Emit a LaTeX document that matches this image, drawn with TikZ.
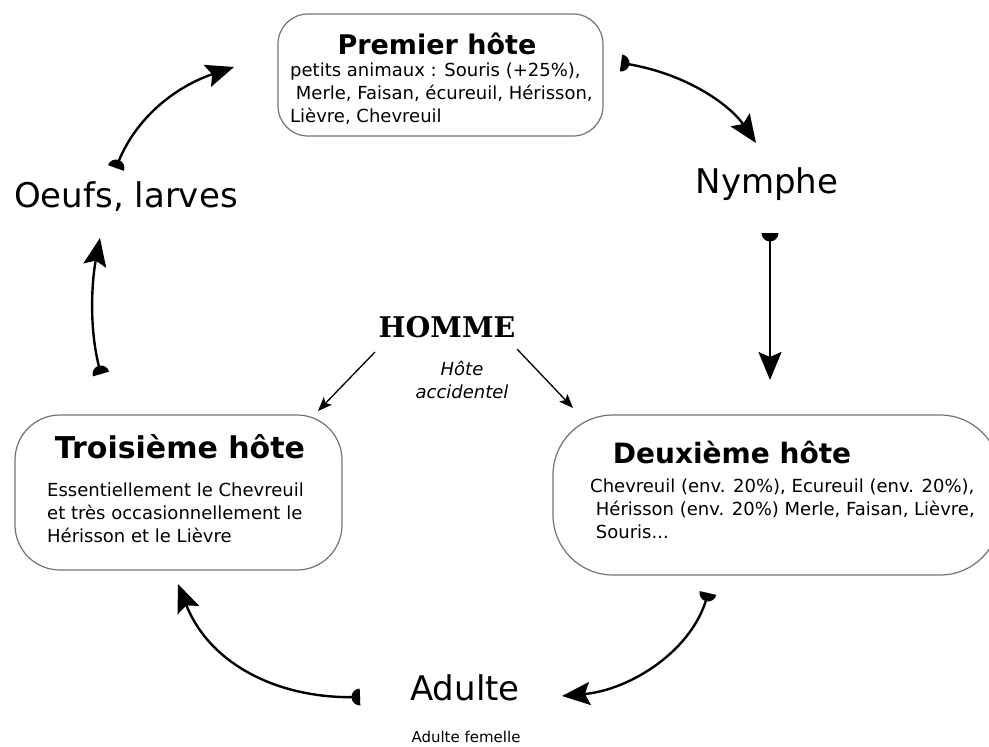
\documentclass[tikz,border=0pt]{standalone}
\usepackage{fontspec}
\setmainfont{DejaVu Sans}
\newfontfamily\serifbold{DejaVu Serif}
\usetikzlibrary{arrows.meta,decorations.markings}

\tikzset{
  hostbox/.style={draw=black!55, line width=1.2pt},
  hosttitle/.style={font=\bfseries\fontsize{28}{33}\selectfont, inner sep=0pt},
  hostbody/.style={font=\fontsize{18}{23}\selectfont, align=left, anchor=north west, inner sep=0pt},
  stage/.style={font=\fontsize{34}{40}\selectfont, inner sep=0pt},
  lifearrow/.style={line width=2.4pt, -{Stealth[length=28pt,width=23pt,inset=5pt]},
    postaction={decorate, decoration={markings,
      mark=at position 0 with {\fill (0pt,-8.5pt) arc (-90:90:8.5pt) -- cycle;}}}},
  humanarrow/.style={line width=1.3pt, -{Stealth[length=14pt,width=11pt,inset=3pt]}}
}

\begin{document}
\begin{tikzpicture}[x=1pt, y=-1pt]
\useasboundingbox (0,0) rectangle (989,747);
% Les trois hôtes
\node[hostbox, rounded corners=30pt, minimum width=325pt, minimum height=122pt] (premier) at (440.5,75) {};
\node[hostbox, rounded corners=45pt, minimum width=327pt, minimum height=155pt] (troisieme) at (178.5,492.5) {};
\node[hostbox, rounded corners=60pt, minimum width=447pt, minimum height=160pt] (deuxieme) at (776.5,495) {};
\node[hosttitle, font=\bfseries\fontsize{27}{32}\selectfont] (premiertitre) at (437,44) {Premier hôte};
\node[hostbody] (premiertexte) at (290,63) {petits animaux : Souris (+25\%),\\ \ Merle, Faisan, écureuil, Hérisson,\\Lièvre, Chevreuil};
\node[hosttitle, font=\bfseries\fontsize{30}{35}\selectfont] (troisiemetitre) at (180,447) {Troisième hôte};
\node[hostbody] (troisiemetexte) at (47,483) {Essentiellement le Chevreuil\\et très occasionnellement le\\Hérisson et le Lièvre};
\node[hosttitle] (deuxiemetitre) at (732,452) {Deuxième hôte};
\node[hostbody] (deuxiemetexte) at (590,479) {Chevreuil (env. 20\%), Ecureuil (env. 20\%),\\ \ Hérisson (env. 20\%) Merle, Faisan, Lièvre,\\ \ Souris...};
% Stades
\node[stage] (nymphe) at (767,184) {Nymphe};
\node[stage] (oeufs) at (126,197) {Oeufs, larves};
\node[stage] (adulte) at (465,688) {Adulte};
\node[font=\fontsize{15}{18}\selectfont, inner sep=0pt] (femelle) at (466,737) {Adulte femelle};
% Homme
\node[font=\serifbold\bfseries\fontsize{28.5}{33}\selectfont, inner sep=0pt] (homme) at (447,327) {HOMME};
\node[font=\itshape\fontsize{18}{23}\selectfont, align=center, inner sep=0pt] (accidentel) at (462,380) {Hôte\\accidentel};
% Extrémités des flèches
\coordinate (d1) at (621,63);  \coordinate (f1) at (756,143);
\coordinate (d2) at (770,233); \coordinate (f2) at (770,380);
\coordinate (d3) at (708,593); \coordinate (f3) at (562,696);
\coordinate (d4) at (360,697); \coordinate (f4) at (178,584);
\coordinate (d5) at (101,374); \coordinate (f5) at (100,238);
\coordinate (d6) at (116,168); \coordinate (f6) at (234,67);
\coordinate (h1) at (375,352); \coordinate (g1) at (318,411);
\coordinate (h2) at (517,349); \coordinate (g2) at (573,408);
% Cycle
\draw[lifearrow] (d1) .. controls (685,72) and (730,105) .. (f1);
\draw[lifearrow] (d2) -- (f2);
\draw[lifearrow] (d3) .. controls (695,650) and (630,690) .. (f3);
\draw[lifearrow] (d4) .. controls (280,700) and (210,665) .. (f4);
\draw[lifearrow] (d5) .. controls (88,330) and (92,280) .. (f5);
\draw[lifearrow] (d6) .. controls (135,115) and (180,85) .. (f6);
% Hôte accidentel
\draw[humanarrow] (h1) -- (g1);
\draw[humanarrow] (h2) -- (g2);
\end{tikzpicture}
\end{document}
